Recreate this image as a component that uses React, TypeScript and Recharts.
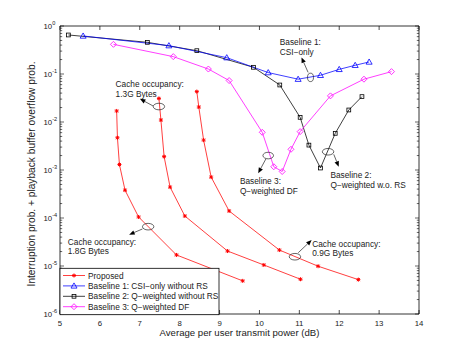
import React from 'react';
import { LineChart, Line, XAxis, YAxis, ReferenceLine, ReferenceDot, Legend } from 'recharts';

// ---------------- data ----------------
const xTicks = [5, 6, 7, 8, 9, 10, 11, 12, 13, 14];
const yDecades = [1e-6, 1e-5, 1e-4, 1e-3, 1e-2, 1e-1, 1];
const yDecadeLabels = ['-6', '-5', '-4', '-3', '-2', '-1', '0'];
const yMinorMultipliers = [2, 3, 4, 5, 6, 7, 8, 9];

const proposed18X = [6.42, 6.44, 6.49, 6.63, 6.97, 7.92, 9.58];
const proposed18Y = [1.7e-2, 4.7e-3, 1.3e-3, 3.8e-4, 1.05e-4, 1.7e-5, 4.9e-6];
const proposed13X = [7.48, 7.53, 7.61, 7.76, 8.13, 9.2, 10.11, 11.03];
const proposed13Y = [3.1e-2, 1.1e-2, 1.9e-3, 4.4e-4, 1.1e-4, 2.05e-5, 1.05e-5, 5.3e-6];
const proposed09X = [8.43, 8.48, 8.6, 8.79, 9.24, 10.5, 11.47, 12.48];
const proposed09Y = [4.3e-2, 2.05e-2, 4.2e-3, 7.1e-4, 1.4e-4, 2.15e-5, 9.9e-6, 5.2e-6];
const baseline1X = [5.58, 7.73, 9.18, 10.22, 10.97, 11.53, 12.0, 12.4, 12.75];
const baseline1Y = [0.62, 0.39, 0.219, 0.107, 0.078, 0.094, 0.125, 0.152, 0.178];
const baseline2X = [5.21, 7.19, 8.43, 9.85, 10.51, 11.02, 11.24, 11.53, 11.9, 12.24, 12.57];
const baseline2Y = [0.65, 0.457, 0.306, 0.138, 0.059, 0.0125, 0.0033, 0.0011, 0.0058, 0.0178, 0.0338];
const baseline3X = [6.34, 7.84, 8.72, 9.24, 10.07, 10.36, 10.57, 10.79, 11.02, 11.78, 12.62, 13.31];
const baseline3Y = [0.415, 0.23, 0.127, 0.073, 0.0061, 0.00117, 0.00093, 0.0027, 0.0063, 0.035, 0.078, 0.112];

const legendLabels = [
  'Proposed',
  'Baseline 1: CSI\u2212only without RS',
  'Baseline 2: Q\u2212weighted without RS',
  'Baseline 3: Q\u2212weighted DF',
];

// annotation anchors (data coords) and their texts
const annotationX = [7.48, 7.21, 10.89, 11.28, 10.22, 11.72];
const annotationY = [0.021, 6.6e-5, 1.56e-5, 0.085, 0.002, 0.0024];
const annotationTexts = [
  ['Cache occupancy:', '1.3G Bytes'],
  ['Cache occupancy:', '1.8G Bytes'],
  ['Cache occupancy:', '0.9G Bytes'],
  ['Baseline 1:', 'CSI\u2212only'],
  ['Baseline 3:', 'Q\u2212weighted DF'],
  ['Baseline 2:', 'Q\u2212weighted w.o. RS'],
];

const xLabel = 'Average per user transmit power (dB)';
const yLabel = 'Interruption prob. + playback buffer overflow prob.';

// ---------------- layout / style ----------------
const W = 463;
const H = 354;
const MARGIN = { top: 26, right: 44, bottom: 0, left: 0 };
const X_AXIS_H = 40;
const Y_AXIS_W = 60;
const PLOT_L = Y_AXIS_W;
const PLOT_R = W - MARGIN.right;
const PLOT_T = MARGIN.top;
const PLOT_B = H - X_AXIS_H;
const FONT = "'Liberation Sans', Arial, Helvetica, sans-serif";

const COLORS = { proposed: '#ff0000', b1: '#0000ff', b2: '#000000', b3: '#ff00ff' };
const LW = 0.75;

// annotation geometry relative to ellipse centre (pixels)
const annotationLayout = [
  { rx: 5.7, ry: 3.3, tail: [-5.7, -0.5], tip: [-19, -7.7], tx: -43.3, ty: [-19.7, -9.2] },
  { rx: 5.7, ry: 3.3, tail: [-5.7, 2.3], tip: [-19, 8], tx: -80.3, ty: [18.3, 27.8] },
  { rx: 5.7, ry: 3.3, tail: [3.3, -4], tip: [16.7, -16.7], tx: 17.3, ty: [-9.9, -0.9] },
  { rx: 3, ry: 4.2, tail: [-2.4, -5], tip: [-9, -20], tx: -30.7, ty: [-32.3, -22.3] },
  { rx: 5.3, ry: 3.3, tail: [-2.3, 3.3], tip: [-10, 17.6], tx: -28.3, ty: [28.3, 38.3] },
  { rx: 5.7, ry: 3.3, tail: [5.7, 2.6], tip: [10.7, 15], tx: 2.4, ty: [26.3, 35.8] },
];

const zip = (xs: number[], ys: number[]) => xs.map((x, i) => ({ x, y: ys[i] }));

// ---------------- markers ----------------
const Star = ({ cx, cy, color }: any) => (
  <g stroke={color} strokeWidth={1}>
    <line x1={cx - 2} x2={cx + 2} y1={cy} y2={cy} />
    <line x1={cx} x2={cx} y1={cy - 2} y2={cy + 2} />
    <line x1={cx - 1.5} x2={cx + 1.5} y1={cy - 1.5} y2={cy + 1.5} />
    <line x1={cx - 1.5} x2={cx + 1.5} y1={cy + 1.5} y2={cy - 1.5} />
  </g>
);
const Tri = ({ cx, cy, color }: any) => (
  <polygon
    points={`${cx},${cy - 3} ${cx - 3},${cy + 2.2} ${cx + 3},${cy + 2.2}`}
    fill="none"
    stroke={color}
    strokeWidth={0.8}
  />
);
const Sq = ({ cx, cy, color }: any) => (
  <rect x={cx - 1.9} y={cy - 1.9} width={3.8} height={3.8} fill="none" stroke={color} strokeWidth={0.8} />
);
const Dia = ({ cx, cy, color }: any) => (
  <polygon
    points={`${cx},${cy - 3} ${cx + 3},${cy} ${cx},${cy + 3} ${cx - 3},${cy}`}
    fill="none"
    stroke={color}
    strokeWidth={0.8}
  />
);

const makeDot = (M: any, color: string) => (p: any) =>
  p.cx == null ? <g key={p.index} /> : <M key={p.index} cx={p.cx} cy={p.cy} color={color} />;

// ---------------- ticks ----------------
const XTick = (props: any) => {
  const { x, payload } = props;
  return (
    <g>
      <line x1={x} x2={x} y1={PLOT_B} y2={PLOT_B - 4} stroke="#000" strokeWidth={0.7} />
      <line x1={x} x2={x} y1={PLOT_T} y2={PLOT_T + 4} stroke="#000" strokeWidth={0.7} />
      <text x={x} y={PLOT_B + 11.5} textAnchor="middle" fontSize={7.8} fontFamily={FONT} fill="#222">
        {payload.value}
      </text>
    </g>
  );
};

const YTick = (props: any) => {
  const { y, payload } = props;
  const v = payload.value;
  const di = yDecades.findIndex((d) => Math.abs(d - v) / d < 1e-6);
  const major = di >= 0;
  const len = major ? 4 : 2.2;
  return (
    <g>
      <line x1={PLOT_L} x2={PLOT_L + len} y1={y} y2={y} stroke="#000" strokeWidth={0.6} />
      <line x1={PLOT_R} x2={PLOT_R - len} y1={y} y2={y} stroke="#000" strokeWidth={0.6} />
      {major && (
        <text x={43.5} y={y + 3} fontSize={7.8} fontFamily={FONT} fill="#222">
          10
          <tspan dy={-3.8} fontSize={5.6}>
            {yDecadeLabels[di]}
          </tspan>
        </text>
      )}
    </g>
  );
};

// ---------------- annotation shape ----------------
const AnnotationShape = ({ cx, cy, idx }: any) => {
  if (cx == null || cy == null) return <g />;
  const L = annotationLayout[idx];
  const [tx0, ty0] = [cx + L.tail[0], cy + L.tail[1]];
  const [tx1, ty1] = [cx + L.tip[0], cy + L.tip[1]];
  const dx = tx1 - tx0;
  const dy = ty1 - ty0;
  const len = Math.sqrt(dx * dx + dy * dy);
  const ux = dx / len;
  const uy = dy / len;
  const hl = 5.5;
  const hw = 2.3;
  const bx = tx1 - ux * hl;
  const by = ty1 - uy * hl;
  const head = `${tx1},${ty1} ${bx - uy * hw},${by + ux * hw} ${bx + uy * hw},${by - ux * hw}`;
  return (
    <g>
      <ellipse cx={cx} cy={cy} rx={L.rx} ry={L.ry} fill="none" stroke="#222" strokeWidth={0.7} />
      <line x1={tx0} y1={ty0} x2={bx} y2={by} stroke="#222" strokeWidth={0.7} />
      <polygon points={head} fill="#000" />
      {annotationTexts[idx].map((t: string, k: number) => (
        <text key={k} x={cx + L.tx} y={cy + L.ty[k]} fontSize={8.3} fontFamily={FONT} fill="#222">
          {t}
        </text>
      ))}
    </g>
  );
};

// ---------------- legend ----------------
const legendMarkers = [Star, Tri, Sq, Dia];
const legendColors = [COLORS.proposed, COLORS.b1, COLORS.b2, COLORS.b3];

const renderLegend = () => (
  <svg width={160} height={47} style={{ display: 'block', overflow: 'visible' }}>
    <rect x={0} y={0.3} width={159} height={46.4} fill="#fff" stroke="#000" strokeWidth={0.8} />
    {legendLabels.map((lab, i) => {
      const cy = 7.5 + i * 10.4;
      const M = legendMarkers[i];
      return (
        <g key={i}>
          <line x1={3} x2={25} y1={cy} y2={cy} stroke={legendColors[i]} strokeWidth={LW} />
          <M cx={14} cy={cy} color={legendColors[i]} />
          <text x={28} y={cy + 3} fontSize={8.3} fontFamily={FONT} fill="#222">
            {lab}
          </text>
        </g>
      );
    })}
  </svg>
);

// ---------------- chart ----------------
const yTicks: number[] = [];
yDecades.forEach((d, i) => {
  yTicks.push(d);
  if (i < yDecades.length - 1) yMinorMultipliers.forEach((m) => yTicks.push(d * m));
});

const series = [
  { key: 'p18', data: zip(proposed18X, proposed18Y), color: COLORS.proposed, M: Star },
  { key: 'p13', data: zip(proposed13X, proposed13Y), color: COLORS.proposed, M: Star },
  { key: 'p09', data: zip(proposed09X, proposed09Y), color: COLORS.proposed, M: Star },
  { key: 'b2', data: zip(baseline2X, baseline2Y), color: COLORS.b2, M: Sq },
  { key: 'b1', data: zip(baseline1X, baseline1Y), color: COLORS.b1, M: Tri },
  { key: 'b3', data: zip(baseline3X, baseline3Y), color: COLORS.b3, M: Dia },
];

const XLabel = () => (
  <text x={(PLOT_L + PLOT_R) / 2} y={PLOT_B + 22} textAnchor="middle" fontSize={9.6} fontFamily={FONT} fill="#222">
    {xLabel}
  </text>
);
const YLabel = () => {
  const cy = (PLOT_T + PLOT_B) / 2 + 4;
  return (
    <text
      x={34.5}
      y={cy}
      transform={`rotate(-90 34.5 ${cy})`}
      textAnchor="middle"
      fontSize={10.2}
      fontFamily={FONT}
      fill="#222"
    >
      {yLabel}
    </text>
  );
};

export default function App() {
  return (
    <div style={{ position: 'absolute', left: 0, top: 0, width: W, height: H, background: '#fff' }}>
      <LineChart width={W} height={H} margin={MARGIN} style={{ fontFamily: FONT }}>
        <XAxis
          dataKey="x"
          type="number"
          domain={[5, 14]}
          ticks={xTicks}
          interval={0}
          allowDataOverflow
          height={X_AXIS_H}
          tickSize={0}
          tickMargin={0}
          tick={<XTick />}
          axisLine={{ stroke: '#000', strokeWidth: 0.8 }}
          tickLine={false}
          label={<XLabel />}
        />
        <YAxis
          type="number"
          scale="log"
          domain={[1e-6, 1]}
          ticks={yTicks}
          interval={0}
          allowDataOverflow
          width={Y_AXIS_W}
          tickSize={0}
          tickMargin={0}
          tick={<YTick />}
          axisLine={{ stroke: '#000', strokeWidth: 0.8 }}
          tickLine={false}
          label={<YLabel />}
        />
        <ReferenceLine y={1} stroke="#000" strokeWidth={0.8} />
        <ReferenceLine x={14} stroke="#000" strokeWidth={0.8} />
        {series.map((s) => (
          <Line
            key={s.key}
            data={s.data}
            dataKey="y"
            type="linear"
            stroke={s.color}
            strokeWidth={LW}
            dot={makeDot(s.M, s.color)}
            activeDot={false}
            isAnimationActive={false}
            legendType="none"
          />
        ))}
        {annotationX.map((ax, i) => (
          <ReferenceDot
            key={'a' + i}
            x={ax}
            y={annotationY[i]}
            r={0}
            ifOverflow="visible"
            shape={(p: any) => <AnnotationShape cx={p.cx} cy={p.cy} idx={i} />}
          />
        ))}
        <Legend
          layout="horizontal"
          verticalAlign="middle"
          align="center"
          content={renderLegend}
          wrapperStyle={{ position: 'absolute', left: PLOT_L, top: PLOT_B - 46.5, width: 160, height: 47 }}
        />
      </LineChart>
    </div>
  );
}
